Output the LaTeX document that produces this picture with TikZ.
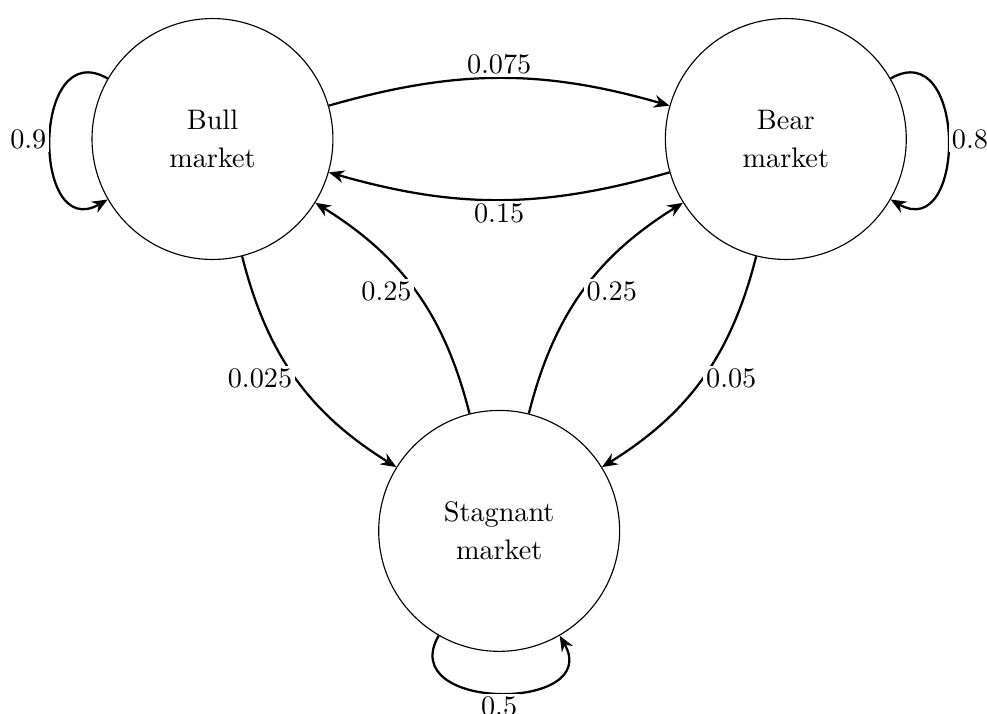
\documentclass[tikz,border=0pt]{standalone}
\usepackage{tikz}
\usetikzlibrary{arrows.meta}

\begin{document}
\begin{tikzpicture}[
    market/.style={draw, circle, minimum size=3cm, align=center},
    trans/.style={-{Stealth[length=5.5pt, width=4.5pt, inset=1.8pt]}, thick},
    prob/.style={fill=white, inner sep=1pt}
]
    \useasboundingbox (-2.646,1.731) rectangle (9.645,-7.148);

    % Market states
    \node[market] (bull) at (0, 0) {Bull\\[1.5pt] market};
    \node[market] (bear) at (7.14, 0) {Bear\\[1.5pt] market};
    \node[market] (stag) at (3.57, -4.88) {Stagnant\\[1.5pt] market};

    % Self loops
    \draw[trans] (bull) to[out=150, in=210, distance=1.1cm] node[prob, left] {0.9} (bull);
    \draw[trans] (bear) to[out=30, in=-30, distance=1.1cm] node[prob, right] {0.8} (bear);
    \draw[trans] (stag) to[out=240, in=300, distance=1.1cm] node[prob, below] {0.5} (stag);

    % Bull <-> Bear
    \draw[trans] (bull) to[bend left=16] node[prob, above] {0.075} (bear);
    \draw[trans] (bear) to[bend left=16] node[prob, below] {0.15} (bull);

    % Bull <-> Stagnant
    \draw[trans] (bull) to[bend right=22] node[prob, left] {0.025} (stag);
    \draw[trans] (stag) to[bend right=22] node[prob, left] {0.25} (bull);

    % Bear <-> Stagnant
    \draw[trans] (bear) to[bend left=22] node[prob, right] {0.05} (stag);
    \draw[trans] (stag) to[bend left=22] node[prob, right] {0.25} (bear);
\end{tikzpicture}
\end{document}
